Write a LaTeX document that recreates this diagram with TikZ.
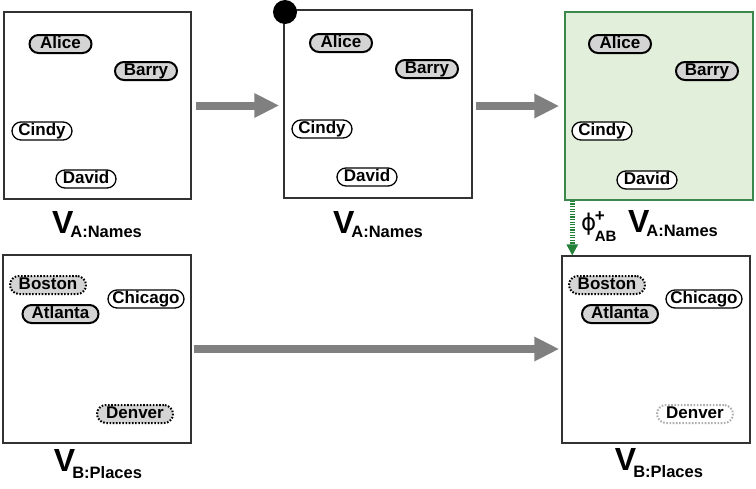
\documentclass[tikz,border=0pt]{standalone}
\usepackage{fontspec}
\setmainfont{Liberation Sans}
\newfontfamily\djv{DejaVu Sans}
\usetikzlibrary{arrows.meta,calc}
\definecolor{arrowgray}{RGB}{128,128,128}
\definecolor{boxline}{RGB}{50,50,50}
\definecolor{selfill}{RGB}{212,212,212}
\definecolor{grnline}{RGB}{60,135,75}
\definecolor{grnfill}{RGB}{226,239,218}
\definecolor{grnarrow}{RGB}{35,130,55}
\definecolor{ghost}{RGB}{175,175,175}
\tikzset{
  panel/.style={draw=boxline, line width=1.5pt, minimum width=187pt, minimum height=187pt, inner sep=0pt},
  item/.style={rectangle, rounded corners=9pt, draw=black, line width=1.3pt, fill=white,
    minimum height=18pt, inner xsep=3pt, inner ysep=0pt, text height=12.3pt, text depth=3.5pt,
    font=\bfseries\fontsize{17}{17}\selectfont},
  sel/.style={item, fill=selfill, line width=2pt},
  maybe/.style={item, fill=selfill, line width=2pt, dash pattern=on 1.6pt off 1.6pt},
  gone/.style={item, draw=ghost, fill=white, line width=2pt, dash pattern=on 1.6pt off 1.6pt},
  bigarrow/.style={draw=arrowgray, line width=8pt, -{Triangle[length=25pt,width=23pt]}},
  vlabel/.style={anchor=base, inner sep=0pt},
  w60/.style={minimum width=60pt},
  w62/.style={minimum width=62pt},
  w76/.style={minimum width=76pt},
}
\newcommand{\vlab}[3]{{\bfseries\fontsize{32}{32}\selectfont V}\kern-3pt\raisebox{#3}{\bfseries\fontsize{16.5}{16.5}\selectfont #1:#2}}
\begin{document}
\begin{tikzpicture}[x=1pt,y=-1pt]
\path[use as bounding box, fill=white] (0,0) rectangle (756,488);

% panels
\node[panel] (b1) at (97.5,105.5) {};
\node[panel, minimum width=188pt, minimum height=188pt] (b2) at (378,104) {};
\node[panel, draw=grnline, fill=grnfill, minimum width=188pt, minimum height=188pt] (b3) at (659,106) {};
\node[panel, minimum width=188pt, minimum height=188pt] (b4) at (97,349) {};
\node[panel, minimum width=188pt, minimum height=187pt] (b5) at (656,349.5) {};

% dot on panel 2
\node[circle, fill=black, minimum size=24pt, inner sep=0pt] (dot) at (285,12) {};

% panel 1 items
\node[sel, w62] (a1) at (60.5,44) {Alice};
\node[sel, w62] (r1) at (146,71) {Barry};
\node[item, w60] (c1) at (42,131) {Cindy};
\node[item, w60] (d1) at (86,179) {David};
% panel 2 items
\node[sel, w62] (a2) at (341,43) {Alice};
\node[sel, w62] (r2) at (427,69) {Barry};
\node[item, w60] (c2) at (322,129) {Cindy};
\node[item, w60] (d2) at (367,177) {David};
% panel 3 items
\node[sel, w62] (a3) at (620,44) {Alice};
\node[sel, w62] (r3) at (707,71) {Barry};
\node[item, w60] (c3) at (602,131) {Cindy};
\node[item, w60] (d3) at (647,180) {David};
% panel 4 items
\node[maybe, w76] (bo4) at (48,285) {Boston};
\node[item, w76] (ch4) at (146,299) {Chicago};
\node[sel, w76] (at4) at (60.5,314) {Atlanta};
\node[maybe, w76] (de4) at (135,414) {Denver};
% panel 5 items
\node[maybe, w76] (bo5) at (607,285) {Boston};
\node[item, w76] (ch5) at (704,299) {Chicago};
\node[sel, w76] (at5) at (620,314) {Atlanta};
\node[gone, w76] (de5) at (695,414) {Denver};

% labels
\node[vlabel] (l1) at (97,233) {\vlab{A}{Names}{-4.5pt}};
\node[vlabel] (l2) at (378,233) {\vlab{A}{Names}{-4.5pt}};
\node[vlabel] (l3) at (673,232) {\vlab{A}{Names}{-4.5pt}};
\node[vlabel] (l4) at (98,471) {\vlab{B}{Places}{-7pt}};
\node[vlabel] (l5) at (659,470) {\vlab{B}{Places}{-7pt}};
\node[anchor=base west, inner sep=0pt] (phi) at (581,230)
  {{\djv\fontsize{23}{23}\selectfont ϕ}\kern-1.5pt\rlap{\raisebox{9pt}{\bfseries\fontsize{17}{17}\selectfont +}}\raisebox{-11pt}{\bfseries\fontsize{15}{15}\selectfont AB}};

% arrows
\draw[bigarrow] ([xshift=4pt]b1.east) -- ([xshift=-4pt]b1.east -| b2.west);
\draw[bigarrow] ([xshift=3pt]b2.east |- b3.west) -- ([xshift=-5pt]b3.west);
\draw[bigarrow] ([xshift=2pt]b4.east) -- ([xshift=-2pt]b4.east -| b5.west);
\coordinate (g1) at ([xshift=8pt]b3.south west);
\draw[draw=grnarrow, line width=5pt, dash pattern=on 1.3pt off 1.3pt,
  -{Triangle[length=11pt,width=12pt,fill=grnarrow,line width=0pt]}] (g1) -- (g1 |- b5.north);
\end{tikzpicture}
\end{document}
